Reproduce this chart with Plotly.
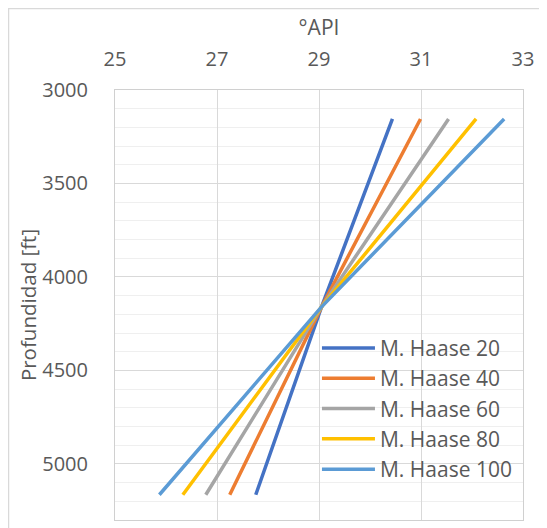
import plotly.graph_objects as go

# Profundidad [ft] y °API para cada serie M. Haase
depth = [3155, 4160, 5165]
mh20 = [30.44, 29.05, 27.76]
mh40 = [30.99, 29.05, 27.25]
mh60 = [31.54, 29.05, 26.78]
mh80 = [32.08, 29.05, 26.33]
mh100 = [32.63, 29.05, 25.87]

names = ["M. Haase 20", "M. Haase 40", "M. Haase 60", "M. Haase 80", "M. Haase 100"]
series = [mh20, mh40, mh60, mh80, mh100]
colors = ["#4472C4", "#ED7D31", "#A5A5A5", "#FFC000", "#5B9BD5"]

x_ticks = [25, 27, 29, 31, 33]
y_ticks = [3000, 3500, 4000, 4500, 5000]

FONT = "Open Sans, Liberation Sans, sans-serif"
GREY = "#595959"

fig = go.Figure()
for name, api, color in zip(names, series, colors):
    fig.add_trace(
        go.Scatter(
            x=api,
            y=depth,
            mode="lines",
            name=name,
            legendgroup=name,
            line=dict(color=color, width=3.5),
        )
    )

fig.update_layout(
    width=539,
    height=520,
    margin=dict(l=107, r=24, t=82, b=8),
    paper_bgcolor="white",
    plot_bgcolor="white",
    font=dict(family=FONT, color=GREY, size=20),
    showlegend=True,
    legend=dict(
        x=0.495,
        y=0.447,
        xanchor="left",
        yanchor="top",
        bgcolor="rgba(0,0,0,0)",
        font=dict(size=21, color=GREY),
        itemwidth=53,
        tracegroupgap=0,
    ),
    shapes=[
        # marco exterior del gráfico
        dict(
            type="rect",
            xref="paper",
            yref="paper",
            x0=-106.5 / 408,
            x1=1.2,
            y0=-0.05,
            y1=81.5 / 430 + 1,
            line=dict(color="#d9d9d9", width=1.5),
            layer="below",
        )
    ],
)

fig.update_xaxes(
    side="top",
    range=[25, 33],
    tickvals=x_ticks,
    showgrid=True,
    gridcolor="#d9d9d9",
    gridwidth=1,
    showline=True,
    mirror=True,
    linecolor="#d0d0d0",
    linewidth=1,
    zeroline=False,
    ticks="",
    ticklabelstandoff=15,
    tickfont=dict(size=20, color=GREY),
    title=dict(text="°API", font=dict(size=21, color=GREY), standoff=3),
)

fig.update_yaxes(
    range=[5300, 3000],
    tickvals=y_ticks,
    showgrid=True,
    gridcolor="#d9d9d9",
    gridwidth=1,
    minor=dict(dtick=100, showgrid=True, gridcolor="#efefef", gridwidth=1),
    showline=True,
    mirror=True,
    linecolor="#d0d0d0",
    linewidth=1,
    zeroline=False,
    ticks="",
    ticklabelstandoff=22,
    tickfont=dict(size=20, color=GREY),
    title=dict(text="Profundidad [ft]", font=dict(size=20.5, color=GREY), standoff=0),
)

fig.write_html("out.html")
